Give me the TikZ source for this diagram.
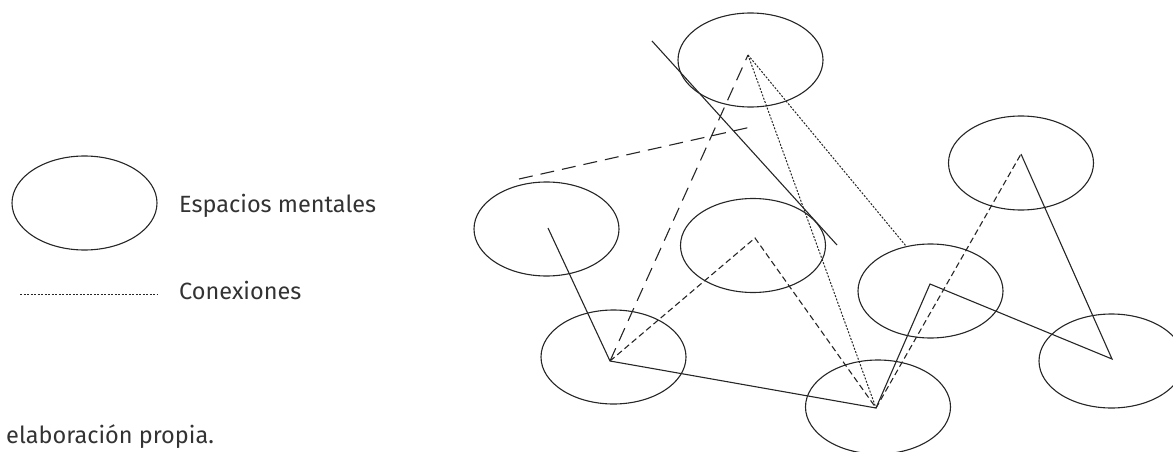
\documentclass[tikz,border=0pt]{standalone}
\usepackage{fontspec}
\setmainfont{Fira Sans}
\usetikzlibrary{shapes.geometric}
\begin{document}
\begin{tikzpicture}[x=1pt,y=-1pt,
  space/.style={draw=black!85, ellipse, minimum width=145pt, minimum height=94pt, inner sep=0pt, line width=1.1pt},
  link/.style={draw=black!85, line width=1.1pt},
  fine/.style={draw=black!85, line width=1pt, dash pattern=on 2pt off 1.5pt},
  longdash/.style={draw=black!85, line width=1.1pt, dash pattern=on 14pt off 8pt},
  middash/.style={draw=black!85, line width=1.1pt, dash pattern=on 6pt off 3.5pt},
  lbl/.style={inner sep=0pt, anchor=base west, font=\fontsize{23.5}{28}\selectfont, text=black!80}]
\useasboundingbox (0,0) rectangle (1173,452);
\clip (0,0) rectangle (1173,452);
% legend
\node[space] (legend) at (84.5,203) {};
\coordinate (legA) at (20,294);
\coordinate (legB) at (157,294);
\draw[fine] (legA) -- (legB);
\node[lbl] (t1) at (179,212.7) {Espacios mentales};
\node[lbl] (t2) at (179,299) {Conexiones};
\node[lbl] (t3) at (6,443.3) {elaboración propia.};
% mental spaces
\node[space] (e1) at (750.5,60) {};
\node[space] (e2) at (546.5,229) {};
\node[space] (e3) at (753,245.5) {};
\node[space] (e4) at (613.5,357) {};
\node[space] (e5) at (878,407) {};
\node[space] (e6) at (930.5,291) {};
\node[space] (e7) at (1021,163) {};
\node[space] (e8) at (1111.5,361) {};
% vertices
\coordinate (v1) at (748,55);
\coordinate (v2) at (548,228);
\coordinate (v3) at (755,238);
\coordinate (v4) at (610,361);
\coordinate (v5) at (876,408);
\coordinate (v6) at (930,284);
\coordinate (v7) at (1021,154);
\coordinate (v8) at (1112,359);
\coordinate (d6) at (906,246);
\coordinate (sA) at (652,41);
\coordinate (sB) at (837,245);
\coordinate (hA) at (519,179);
\coordinate (hB) at (751,127);
% solid connections
\draw[link, line join=miter] (v2) -- (v4) -- (v5) -- (v6) -- (v8) -- (v7);
\draw[link] (sA) -- (sB);
% long dashed
\draw[longdash] (v4) -- (v1);
\draw[longdash] (hA) -- (hB);
% medium dashed
\draw[middash] (v4) -- (v3) -- (v5);
\draw[middash] (v5) -- (v7);
% fine dotted
\draw[fine] (v1) -- (v5);
\draw[fine] (v1) -- (d6);
\end{tikzpicture}
\end{document}
